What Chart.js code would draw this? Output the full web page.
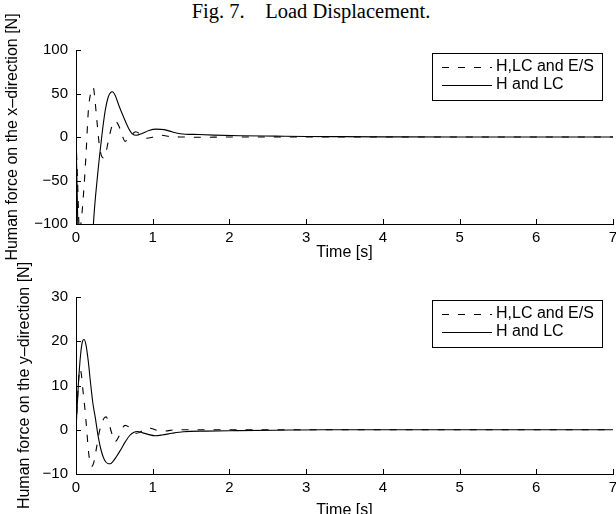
<!DOCTYPE html>
<html>
<head>
<meta charset="utf-8">
<script src="https://cdn.jsdelivr.net/npm/chart.js@4.4.1/dist/chart.umd.min.js"></script>
<style>
  html, body { margin: 0; padding: 0; background: #fff; overflow: hidden; }
  body { width: 616px; height: 514px; position: relative; }
  #caption {
    position: absolute; left: 0; top: 0; width: 622px;
    text-align: center; white-space: pre;
    font: 20.5px "Liberation Serif", "Times New Roman", serif; color: #000;
  }
  .box { position: absolute; left: 0; width: 616px; }
  #topBox { top: 0; height: 270px; }
  #bottomBox { top: 244px; height: 290px; }
</style>
</head>
<body>
<div id="caption">Fig. 7.    Load Displacement.</div>
<div class="box" id="topBox"><canvas id="xChart"></canvas></div>
<div class="box" id="bottomBox"><canvas id="yChart"></canvas></div>
<script>
// Series labels
const labelDashed = 'H,LC and E/S';
const labelSolid = 'H and LC';

// x-direction force, H,LC and E/S (dashed)
const xDashTime = [0, 0.02, 0.045, 0.07, 0.10, 0.13, 0.16, 0.19, 0.225, 0.25, 0.27, 0.31, 0.355, 0.39, 0.42, 0.46, 0.50, 0.54, 0.58, 0.64, 0.69, 0.74, 0.78, 0.84, 0.92, 1.01, 1.11, 1.23, 1.4, 1.6, 2.0, 3.0, 7.0];
const xDashForce = [0, -50, -108, -95, -63, -21, 29, 50, 57, 40, 21, -13, -24, -18, -5, 10, 18, 16, 8, -5, -1, 4, 6, 3, -1.5, 0, 2, 0.5, 0, -0.3, 0, 0, 0];

// x-direction force, H and LC (solid)
const xSolidTime = [0, 0.015, 0.03, 0.08, 0.15, 0.2, 0.227, 0.28, 0.335, 0.38, 0.42, 0.45, 0.475, 0.51, 0.56, 0.62, 0.68, 0.73, 0.79, 0.86, 0.95, 1.05, 1.15, 1.25, 1.36, 1.6, 1.8, 2.14, 2.6, 3.0, 3.45, 4, 5, 6, 7];
const xSolidForce = [0, -60, -130, -200, -200, -150, -100, -45, 0, 30, 46, 51, 52, 48, 36, 23, 11, 4, 2, 4, 7.5, 9, 8.5, 6, 3.8, 2.8, 2.2, 1.5, 1, 0.6, 0.4, 0.2, 0, 0, 0];

// y-direction force, H,LC and E/S (dashed)
const yDashTime = [0, 0.02, 0.04, 0.052, 0.07, 0.09, 0.118, 0.14, 0.161, 0.185, 0.205, 0.23, 0.27, 0.3, 0.335, 0.365, 0.392, 0.42, 0.466, 0.51, 0.55, 0.6, 0.64, 0.7, 0.79, 0.87, 0.945, 1.05, 1.15, 1.3, 1.6, 2, 7];
const yDashForce = [0, 7, 12.5, 13.8, 12.5, 9, 4.4, 0, -4.6, -7.5, -8.3, -7.5, -3.8, -0.8, 1.4, 2.6, 2.9, 2, -0.8, -2.7, -1.8, 0.2, 1, 0.5, -0.8, -0.2, 0.45, -0.1, -0.3, 0, 0, 0, 0];

// y-direction force, H and LC (solid)
const ySolidTime = [0, 0.03, 0.06, 0.085, 0.105, 0.13, 0.16, 0.19, 0.22, 0.25, 0.29, 0.33, 0.37, 0.41, 0.445, 0.48, 0.53, 0.58, 0.64, 0.7, 0.75, 0.8, 0.87, 0.95, 1.03, 1.12, 1.25, 1.4, 1.7, 2.1, 2.6, 3.2, 4, 7];
const ySolidForce = [0, 10, 17, 20, 20.4, 19.2, 15.5, 10.5, 6, 2.9, -1.6, -4.8, -6.8, -7.6, -7.7, -7.2, -6, -4.6, -2.8, -1.3, -0.6, -0.4, -0.7, -1.1, -1.35, -1.2, -0.8, -0.45, -0.3, -0.2, -0.1, 0, 0, 0];

// Axis ranges
const timeRange = [0, 7];
const xForceRange = [-100, 100];
const yForceRange = [-10, 30];

const sansFont = '"Liberation Sans", Arial, Helvetica, sans-serif';

function toPoints(times, values) {
  return times.map((t, i) => ({x: t, y: values[i]}));
}

// MATLAB style ticks pointing into the axes
const innerTicks = {
  id: 'innerTicks',
  afterDatasetsDraw(chart) {
    const {ctx, chartArea, scales} = chart;
    ctx.save();
    ctx.strokeStyle = '#000';
    ctx.lineWidth = 1;
    ctx.beginPath();
    scales.x.ticks.forEach(t => {
      const px = Math.round(scales.x.getPixelForValue(t.value)) + 0.5;
      ctx.moveTo(px, chartArea.bottom);
      ctx.lineTo(px, chartArea.bottom - 5);
    });
    scales.y.ticks.forEach(t => {
      const py = Math.round(scales.y.getPixelForValue(t.value)) + 0.5;
      ctx.moveTo(chartArea.left, py);
      ctx.lineTo(chartArea.left + 5, py);
    });
    ctx.stroke();
    ctx.restore();
  }
};

// boxed legend inside the axes
const boxLegend = {
  id: 'boxLegend',
  afterDatasetsDraw(chart, args, opts) {
    const {ctx} = chart;
    const {left, top, width, height, rows} = opts;
    ctx.save();
    ctx.fillStyle = '#fff';
    ctx.fillRect(left, top, width, height);
    ctx.strokeStyle = '#000';
    ctx.lineWidth = 1;
    ctx.strokeRect(left + 0.5, top + 0.5, width, height);
    ctx.font = '16px ' + sansFont;
    ctx.textBaseline = 'middle';
    ctx.fillStyle = '#000';
    chart.data.datasets.forEach((ds, i) => {
      const y = top + rows[i];
      ctx.lineWidth = ds.borderWidth;
      ctx.setLineDash(ds.borderDash || []);
      ctx.beginPath();
      ctx.moveTo(left + 10, y + 0.5);
      ctx.lineTo(left + 60, y + 0.5);
      ctx.stroke();
      ctx.setLineDash([]);
      ctx.fillText(ds.label, left + 64, y);
    });
    ctx.restore();
  }
};

function makeChart(canvasId, cfg) {
  const minusSign = v => String(v).replace('-', '\u2212');
  return new Chart(document.getElementById(canvasId), {
    type: 'line',
    data: {
      datasets: [
        {
          label: labelDashed,
          data: toPoints(cfg.dashTime, cfg.dashForce),
          borderColor: '#000',
          borderWidth: 1.1,
          borderDash: [7, 9],
          pointRadius: 0,
          cubicInterpolationMode: 'monotone'
        },
        {
          label: labelSolid,
          data: toPoints(cfg.solidTime, cfg.solidForce),
          borderColor: '#000',
          borderWidth: 1.1,
          pointRadius: 0,
          cubicInterpolationMode: 'monotone'
        }
      ]
    },
    options: {
      responsive: true,
      maintainAspectRatio: false,
      animation: false,
      layout: {padding: {top: cfg.padTop, right: 3, left: 0, bottom: 0}},
      plugins: {
        legend: {display: false},
        tooltip: {enabled: false},
        boxLegend: cfg.legend
      },
      scales: {
        x: {
          type: 'linear',
          min: timeRange[0],
          max: timeRange[1],
          // fixed height, and let the last label run off the edge like the original
          afterFit: s => { s.height = cfg.xHeight; s.paddingRight = 0; s.paddingLeft = 0; },
          ticks: {stepSize: 1, color: '#000', padding: 5, font: {family: sansFont, size: 15}, maxRotation: 0},
          grid: {drawOnChartArea: false, drawTicks: false},
          border: {display: true, color: '#000', width: 1},
          title: {display: true, text: 'Time [s]', color: '#000', font: {family: sansFont, size: 16},
                  padding: {top: 0, bottom: cfg.xTitlePad}}
        },
        y: {
          min: cfg.range[0],
          max: cfg.range[1],
          afterFit: s => { s.width = 76; },
          ticks: {stepSize: cfg.step, color: '#000', padding: 8, font: {family: sansFont, size: 15}, callback: minusSign},
          grid: {drawOnChartArea: false, drawTicks: false},
          border: {display: true, color: '#000', width: 1},
          title: {display: true, text: cfg.yTitle, color: '#000', font: {family: sansFont, size: 16},
                  padding: {top: cfg.yTitlePad, bottom: 0}}
        }
      }
    },
    plugins: [innerTicks, boxLegend]
  });
}

makeChart('xChart', {
  dashTime: xDashTime, dashForce: xDashForce,
  solidTime: xSolidTime, solidForce: xSolidForce,
  range: xForceRange, step: 50,
  yTitle: 'Human force on the x\u2013direction [N]',
  padTop: 50, xHeight: 46, xTitlePad: 8, yTitlePad: 3,
  legend: {left: 432, top: 53, width: 170, height: 47, rows: [14, 32]}
});

makeChart('yChart', {
  dashTime: yDashTime, dashForce: yDashForce,
  solidTime: ySolidTime, solidForce: ySolidForce,
  range: yForceRange, step: 10,
  yTitle: 'Human force on the y\u2013direction [N]',
  padTop: 53, xHeight: 60, xTitlePad: 14, yTitlePad: 15,
  legend: {left: 432, top: 56, width: 170, height: 47, rows: [14, 32]}
});
</script>
</body>
</html>
